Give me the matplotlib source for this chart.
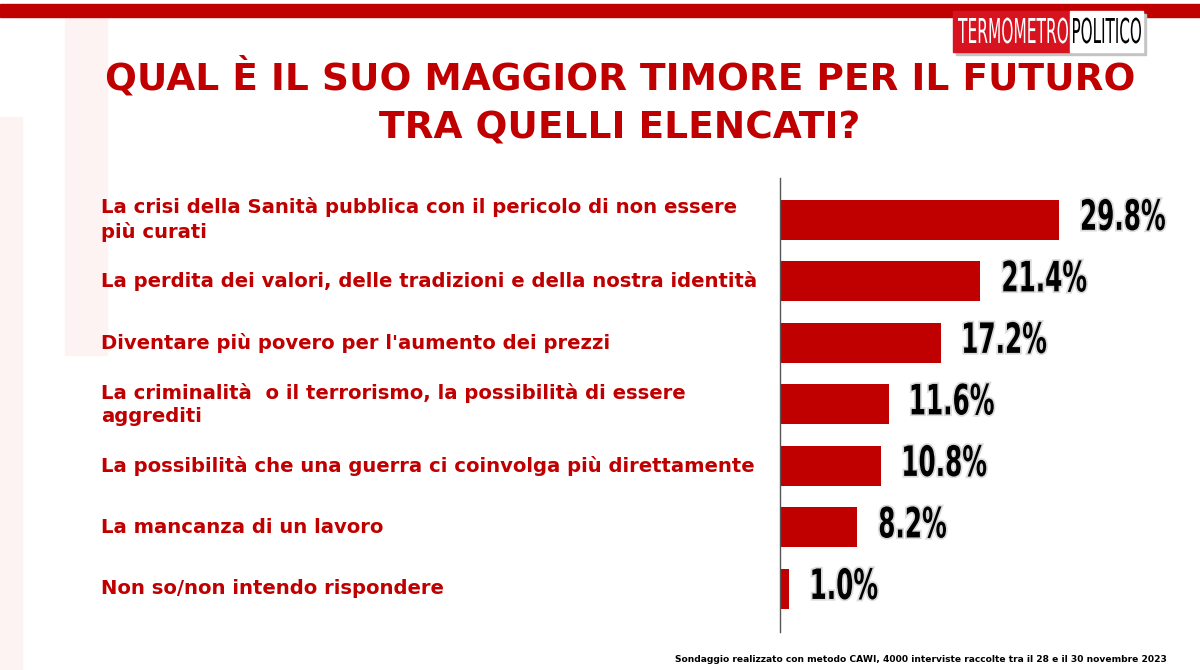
import numpy as np
import matplotlib.pyplot as plt
from matplotlib.patches import Rectangle, PathPatch
from matplotlib.textpath import TextPath
from matplotlib.font_manager import FontProperties
from matplotlib.transforms import Affine2D
import matplotlib.patheffects as pe

categories = [
    "La crisi della Sanità pubblica con il pericolo di non essere\npiù curati",
    "La perdita dei valori, delle tradizioni e della nostra identità",
    "Diventare più povero per l'aumento dei prezzi",
    "La criminalità  o il terrorismo, la possibilità di essere\naggrediti",
    "La possibilità che una guerra ci coinvolga più direttamente",
    "La mancanza di un lavoro",
    "Non so/non intendo rispondere",
]
values = [29.8, 21.4, 17.2, 11.6, 10.8, 8.2, 1.0]
value_labels = ["29.8%", "21.4%", "17.2%", "11.6%", "10.8%", "8.2%", "1.0%"]

title = "QUAL È IL SUO MAGGIOR TIMORE PER IL FUTURO\nTRA QUELLI ELENCATI?"
footer = "Sondaggio realizzato con metodo CAWI, 4000 interviste raccolte tra il 28 e il 30 novembre 2023"

RED = "#C00000"
W, H = 1200, 670

fig = plt.figure(figsize=(12, 6.7), dpi=100)
fig.patch.set_facecolor("white")

bold = FontProperties(family="DejaVu Sans", weight="bold")
regular = FontProperties(family="DejaVu Sans")


def narrow_text(s, x, y, sx, sy, color, prop=bold, ha="left", effects=None, z=5):
    # text drawn as a path squeezed horizontally (condensed look)
    # x/y in pixels from top-left, y is the baseline; sx, sy = pixels per em
    tp = TextPath((0, 0), s, size=1, prop=prop)
    ext = tp.get_extents()
    width = ext.width * sx
    x0 = x - ext.x0 * sx
    if ha == "center":
        x0 -= width / 2
    tr = Affine2D().scale(sx, sy).translate(x0, H - y)
    p = PathPatch(tr.transform_path(tp), facecolor=color, lw=0, zorder=z)
    p.set_transform(Affine2D())
    if effects:
        p.set_path_effects(effects)
    fig.patches.append(p)
    return width


# faint watermark on the left
pale = "#FDF3F3"
fig.patches.append(Rectangle((0, 0), 22 / W, 1 - 117 / H, transform=fig.transFigure,
                             color=pale, zorder=-1))
fig.patches.append(Rectangle((65 / W, 1 - 355 / H), 42 / W, 338 / H, transform=fig.transFigure,
                             color=pale, zorder=-1))

# top red band
fig.patches.append(Rectangle((0, 1 - 17 / H), 1, 13 / H, transform=fig.transFigure,
                             color=RED, zorder=1))

# logo
fig.patches.append(Rectangle((956 / W, 1 - 55 / H), 190 / W, 41 / H, transform=fig.transFigure,
                             color="#C4C4C4", zorder=2))
fig.patches.append(Rectangle((953 / W, 1 - 52 / H), 117 / W, 41 / H, transform=fig.transFigure,
                             color="#D7131F", zorder=3))
fig.patches.append(Rectangle((1070 / W, 1 - 52 / H), 73 / W, 41 / H, transform=fig.transFigure,
                             color="white", zorder=3))
cap = TextPath((0, 0), "T", size=1, prop=regular).get_extents().height
w1 = TextPath((0, 0), "TERMOMETRO", size=1, prop=regular).get_extents().width
w2 = TextPath((0, 0), "POLITICO", size=1, prop=regular).get_extents().width
narrow_text("TERMOMETRO", 958, 43, 110 / w1, 25 / cap, "white", prop=regular)
narrow_text("POLITICO", 1073, 43, 68 / w2, 25 / cap, "black", prop=regular)

# title
fig.text(620 / W, 1 - 102 / H, title, color=RED, fontsize=27, fontweight="bold",
         family="DejaVu Sans", ha="center", va="center", linespacing=1.47)

# chart
ax = fig.add_axes([780 / W, 1 - 632 / H, 420 / W, 454 / H])
ax.set_facecolor("none")
y = np.arange(len(values))
ax.barh(y, values, height=0.65, color=RED, zorder=2)
ax.set_xlim(0, 420 / 9.36)
ax.set_ylim(len(values) - 1 + 0.70, -0.68)
for s in ["top", "right", "bottom"]:
    ax.spines[s].set_visible(False)
ax.spines["left"].set_color("#555555")
ax.spines["left"].set_linewidth(1)
ax.set_xticks([])
ax.set_yticks([])

for yi, cat in zip(y, categories):
    ax.text(-679 / 9.36, yi, cat, fontsize=14.1, fontweight="bold", family="DejaVu Sans",
            color=RED, ha="left", va="center", linespacing=1.3)

# value labels in a condensed look
dcap = TextPath((0, 0), "2", size=1, prop=bold).get_extents().height
wref = TextPath((0, 0), "29.8%", size=1, prop=bold).get_extents().width
sy = 31 / dcap
sx = 83 / wref
halo = [pe.Stroke(linewidth=2.5, foreground="#DADADA"), pe.Normal()]
fig.canvas.draw()
for yi, v, lab in zip(y, values, value_labels):
    px, py = ax.transData.transform((v, yi))
    narrow_text(lab, px + 23, (H - py) + 10, sx, sy, "black", effects=halo)

fig.text(1167 / W, 1 - 659 / H, footer, fontsize=6.6, fontweight="bold", family="DejaVu Sans",
         ha="right", va="center", color="black")

fig.savefig("out.png", dpi=100)
